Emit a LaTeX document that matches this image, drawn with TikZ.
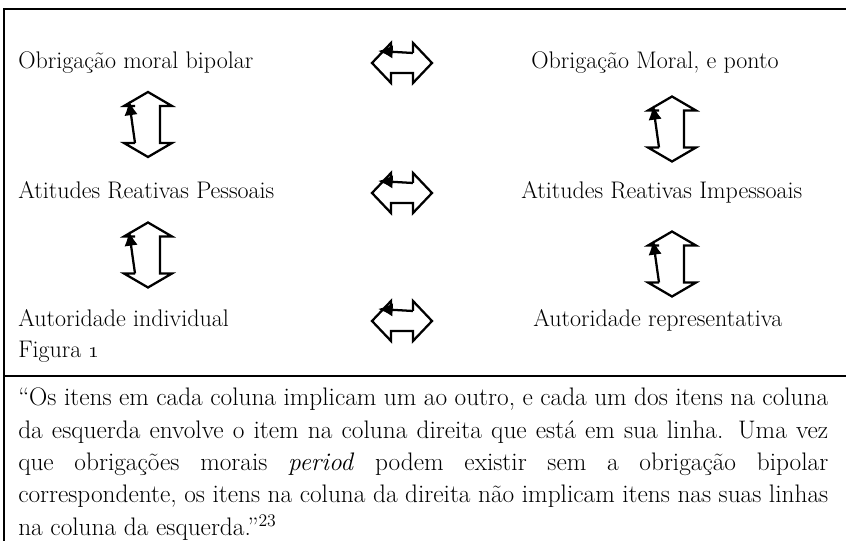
\documentclass[tikz,border=0pt]{standalone}
\usepackage{tikz}
\usetikzlibrary{arrows.meta}

\tikzset{
  lbl/.style={anchor=base west, inner sep=0pt, font=\fontsize{18}{21}\selectfont},
  blk/.style={line width=1.7pt, line join=miter},
  tipline/.style={line width=1.7pt, -{Latex[length=11pt,width=10pt]}},
  hdbl/.pic={
    \draw[blk] (-11,-10) -- (-11,-20) -- (-30,0) -- (-11,20) -- (-11,10) -- (11,10)
               -- (11,20) -- (30,0) -- (11,-20) -- (11,-10);
    \draw[tipline] (11,-10) -- (-24,-12);
  },
  vdbl/.pic={
    \draw[blk] (-13,18.5) -- (-24,18.5) -- (0,32.5) -- (24,18.5) -- (12,18.5) -- (12,-18.5)
               -- (24,-18.5) -- (0,-32.5) -- (-24,-18.5) -- (-13,-18.5);
    \draw[tipline] (-13,18.5) -- (-19,-24);
  }
}

\begin{document}
\begin{tikzpicture}[x=0.75pt,y=-0.75pt]
\useasboundingbox (0,0) rectangle (846,541);

% frame
\draw[line width=2pt] (4,541) -- (4,9) -- (846,9);
\draw[line width=2pt] (4,376) -- (846,376);

% left column
\node[lbl] at (18,69) (obrBip) {Obrigação moral bipolar};
\node[lbl] at (18,199) (atiPes) {Atitudes Reativas Pessoais};
\node[lbl] at (18,327) (autInd) {Autoridade individual};

% right column
\node[lbl] at (531,69) (obrMor) {Obrigação Moral, e ponto};
\node[lbl] at (521,199) (atiImp) {Atitudes Reativas Impessoais};
\node[lbl] at (533,327) (autRep) {Autoridade representativa};

\node[lbl] at (18,358) (fig) {Figura \oldstylenums{1}};

% block arrows
\pic at (402,63) {hdbl};
\pic at (402,193) {hdbl};
\pic at (402,321) {hdbl};
\pic at (148,124.5) {vdbl};
\pic at (148,255) {vdbl};
\pic at (672,129) {vdbl};
\pic at (672,264) {vdbl};

\node[anchor=base west, inner sep=0pt, text width=607.5pt, align=justify,
      font=\fontsize{19}{24.2}\selectfont] at (18,406) (citacao)
  {“Os itens em cada coluna implicam um ao outro, e cada um dos itens na coluna\linebreak
   da esquerda envolve o item na coluna direita que está em sua linha. Uma vez\linebreak
   que obrigações morais \textit{period} podem existir sem a obrigação bipolar\linebreak
   correspondente, os itens na coluna da direita não implicam itens nas suas linhas\linebreak
   na coluna da esquerda.”\textsuperscript{23}};

\end{tikzpicture}
\end{document}
